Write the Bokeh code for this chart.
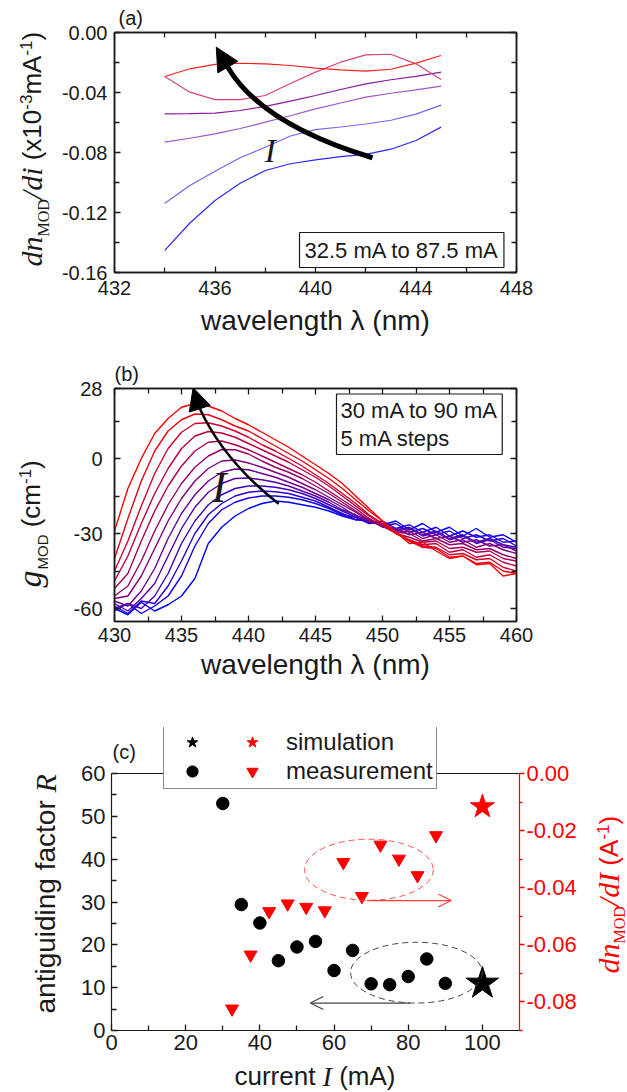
from bokeh.plotting import figure
from bokeh.models import (Range1d, LinearAxis, FixedTicker, NumeralTickFormatter,
                          Label, Arrow, NormalHead, OpenHead, Legend, LegendItem, Span)
from bokeh.layouts import column, row
from bokeh.embed import file_html
from bokeh.resources import INLINE
from bokeh.core.properties import value

SANS = "Liberation Sans"
SERIF = "Liberation Serif"
INK = "#1a1a1a"

# ---------------- panel (a) data ----------------
wl_a = [434, 435, 436, 437, 438, 439, 440, 441, 442, 443, 444, 445]
dn_325 = [-0.1453, -0.127, -0.112, -0.1005, -0.092, -0.0875, -0.0849, -0.0828, -0.0813, -0.0778, -0.072, -0.0631]
dn_435 = [-0.1138, -0.102, -0.0925, -0.0835, -0.0765, -0.069, -0.0648, -0.063, -0.061, -0.0585, -0.0544, -0.0484]
dn_545 = [-0.0731, -0.0705, -0.0676, -0.064, -0.0598, -0.0555, -0.0509, -0.047, -0.0431, -0.0405, -0.0382, -0.0358]
dn_655 = [-0.0542, -0.0541, -0.0538, -0.052, -0.0493, -0.0458, -0.042, -0.038, -0.0342, -0.0315, -0.0293, -0.0264]
dn_765 = [-0.0293, -0.0398, -0.0447, -0.0447, -0.042, -0.034, -0.0264, -0.0198, -0.0149, -0.0145, -0.0209, -0.0313]
dn_875 = [-0.0293, -0.0242, -0.0212, -0.0205, -0.0209, -0.022, -0.0238, -0.0249, -0.0258, -0.0245, -0.0204, -0.0153]
curves_a = [dn_325, dn_435, dn_545, dn_655, dn_765, dn_875]
colors_a = ["#2a2aff", "#7a62ee", "#a055c8", "#8a1a9a", "#d84478", "#ff2020"]

# ---------------- panel (b) data ----------------
wl_b = list(range(430, 461))
g_030 = [-60, -62.5, -57.5, -61, -58.5, -55, -48, -34, -27.5, -23, -20, -18, -17, -17.5, -18.5, -19.5, -21, -23, -24.5, -25, -26.5, -25, -28.5, -26, -29.5, -27.5, -31, -28, -31.5, -30.5, -33.5]
g_035 = [-61, -58, -62, -59, -55, -47, -35, -26, -20.5, -17.5, -15.8, -15, -15, -15.5, -16.5, -18, -20, -22.5, -23.5, -26, -25, -28, -26.5, -29.5, -27.5, -31, -29, -31.5, -30.5, -33.5, -33]
g_040 = [-59, -62, -57, -58, -51, -41, -30, -22.5, -18, -15, -13.5, -13, -13.3, -14, -15.5, -17, -19.5, -22, -24.5, -24, -27, -26, -29.5, -28, -30.5, -29, -32, -30.5, -33, -32, -35]
g_045 = [-60, -58, -60, -55, -46, -34, -25, -18.5, -14.5, -12, -11, -11, -11.5, -12.5, -14, -16, -18.5, -21, -23.5, -25.5, -26, -28.5, -27.5, -30.5, -29, -32, -30.5, -33.5, -32, -34.5, -35.5]
g_050 = [-58, -61, -56, -50, -39, -28, -19.5, -13.5, -10, -8, -7.8, -8.5, -9.5, -11, -13, -15, -17.5, -20.5, -22.5, -25.5, -26.5, -29, -28, -31, -29.5, -32.5, -31, -34, -32.5, -35.5, -36]
g_055 = [-57, -59, -53, -44, -32, -22, -14.5, -9, -5.5, -4.2, -4.5, -6, -7.5, -9.5, -11.5, -14, -16.5, -19.5, -23, -24.5, -27.5, -28, -30.5, -29.5, -32, -31, -33.5, -32.5, -35, -34.5, -37]
g_060 = [-56, -55, -47, -36, -25, -16, -9, -4, -1, -0.6, -1.8, -3.5, -5.5, -7.5, -10, -12.5, -15.5, -18.5, -21.5, -25, -26.5, -29.5, -29, -32, -30.5, -33.5, -32.5, -35.5, -34, -36.5, -38]
g_065 = [-55, -51, -41, -29, -18.5, -10, -3.5, 1, 3.6, 3.5, 1.8, -1, -3.5, -5.5, -8, -11, -14, -17.5, -21, -24.5, -27, -29.5, -30, -33, -32, -34.5, -34, -36.5, -36, -38.5, -40]
g_070 = [-52, -46, -33, -21, -11, -3, 3, 6.5, 7, 5.5, 3.5, 1, -1.5, -4, -6.5, -9.5, -13, -16.5, -20, -24, -27, -30, -31.5, -33.5, -33, -36, -35.5, -37.5, -37, -40, -41]
g_075 = [-49, -39, -26, -14, -4, 4, 9, 10.8, 10.2, 8.5, 6, 3.5, 1, -1.5, -4.5, -7.5, -11, -15, -19, -23, -26.5, -30, -32.5, -34.5, -34, -37.5, -36.5, -39.5, -38.5, -41.5, -43]
g_080 = [-45, -33, -19, -6, 4, 10.5, 14, 14.3, 13, 11, 8.5, 5.5, 3, 0, -3, -6.5, -10, -14, -18, -22.5, -26, -30, -33, -35, -35.5, -38.5, -38, -40.5, -40, -43.5, -45]
g_085 = [-40, -24, -9, 3, 11, 15.5, 17.8, 17.5, 15.5, 13, 11, 8, 5, 2, -1, -4.5, -8, -12, -16.5, -21, -25, -29.5, -33, -35.5, -36, -39.5, -39, -42, -41.5, -45, -46]
g_090 = [-29, -12, 0, 10, 16, 20.5, 22, 21, 19, 16, 13.5, 10.5, 7.5, 4.5, 1, -2.5, -6, -10, -15, -20, -25, -29.5, -34, -33.5, -37, -40, -39, -42.5, -42, -47, -46]
curves_b = [g_030, g_035, g_040, g_045, g_050, g_055, g_060, g_065, g_070, g_075, g_080, g_085, g_090]

# ---------------- panel (c) data ----------------
I_R = [30, 35, 40, 45, 50, 55, 60, 65, 70, 75, 80, 85, 90]
R_meas = [53, 29.4, 25.1, 16.3, 19.5, 20.8, 14.0, 18.7, 10.9, 10.7, 12.6, 16.7, 11.0]
I_dn = [32.5, 37.5, 42.5, 47.5, 52.5, 57.5, 62.5, 67.5, 72.5, 77.5, 82.5, 87.5]
dn_meas = [-0.0824, -0.0635, -0.0483, -0.0456, -0.0468, -0.048, -0.0311, -0.043, -0.025, -0.0299, -0.0357, -0.0217]
I_sim = [100]
R_sim = [11.0]
dn_sim = [-0.0116]

# ---------------- helpers ----------------
EM = {
    "sans": {" ": .278, "(": .333, ")": .333, "x": .5, "1": .556, "0": .556, "-": .333, "3": .556,
             "m": .833, "A": .667, "c": .5, "M": .833, "O": .778, "D": .722, "u": .556, "r": .333,
             "e": .556, "n": .556, "t": .278, "a": .556, "i": .222, "g": .556, "d": .556, "f": .278,
             "o": .556},
    "serif_i": {"d": .5, "n": .5, "/": .278, "i": .278, "I": .333, "g": .5, "R": .611},
    "serif": {"M": .889, "O": .722, "D": .722},
}
MID = {"sans": 0.3465, "serif": 0.3375, "serif_i": 0.3375}


def text_w(s, fam, size):
    return sum(EM[fam].get(c, .5) for c in s) * size


def compose(p, pieces, x0, y0, vertical, color=INK):
    """Chain text pieces along one baseline; each piece anchored at its own centre."""
    pos = 0.0
    for text, fam, size, shift, gap in pieces:
        pos += gap
        w = text_w(text, fam, size)
        along = pos + w / 2
        perp = shift + MID[fam] * size
        if vertical:
            x, y, ang = x0 - perp, y0 + along, 90
        else:
            x, y, ang = x0 + along, y0 + perp, 0
        font = SANS if fam == "sans" else SERIF
        style = "italic" if fam == "serif_i" else "normal"
        p.add_layout(Label(x=x, y=y, text=text, angle=ang, angle_units="deg",
                           text_font=font, text_font_style=style, text_font_size=f"{size}px",
                           text_color=color, text_align="center", text_baseline="middle"))
        pos += w


def style_axis(ax, fs, standoff, color=INK, tin=6, mtin=5, tout=0, mtout=0):
    ax.major_tick_in = tin
    ax.major_tick_out = tout
    ax.minor_tick_in = mtin
    ax.minor_tick_out = mtout
    ax.major_tick_line_color = color
    ax.minor_tick_line_color = color
    ax.major_tick_line_width = 1.3
    ax.minor_tick_line_width = 1.3
    ax.axis_line_color = color
    ax.axis_line_width = 1.5
    ax.major_label_text_font = SANS
    ax.major_label_text_font_size = f"{fs}px"
    ax.major_label_text_color = color
    ax.major_label_standoff = standoff


def mirror(p, ticker, side):
    ax = LinearAxis(ticker=ticker)
    style_axis(ax, 0, 0)
    ax.major_label_text_color = None
    ax.major_label_text_font_size = "0px"
    p.add_layout(ax, side)


def make_fig(w, h, l, r, t, b, xr, yr):
    p = figure(width=w, height=h, x_range=xr, y_range=yr, output_backend="svg",
               toolbar_location=None, min_border_left=l, min_border_right=r,
               min_border_top=t, min_border_bottom=b)
    p.grid.visible = False
    p.outline_line_color = INK
    p.outline_line_width = 1.5
    p.background_fill_color = "white"
    p.border_fill_color = "white"
    return p


def label_fig(w, h, frame_h):
    # in a row, this figure's frame is aligned with its neighbour's frame,
    # so its y range spans the neighbour's frame height (1 unit = 1 px)
    f = figure(width=w, height=h, title=None, x_range=Range1d(0, w), y_range=Range1d(0, frame_h),
               output_backend="svg", toolbar_location=None, x_axis_type=None, y_axis_type=None,
               min_border_left=0, min_border_right=0, min_border_top=0, min_border_bottom=0)
    f.outline_line_color = None
    f.background_fill_color = "white"
    f.border_fill_color = "white"
    return f


def panel_title(p, text, offset, standoff):
    p.title.text = text
    p.title.align = "left"
    p.title.offset = offset
    p.title.standoff = standoff
    p.title.text_font = SANS
    p.title.text_font_size = "20px"
    p.title.text_font_style = "normal"
    p.title.text_color = INK


def x_label(ax, standoff):
    ax.axis_label = "wavelength λ (nm)"
    ax.axis_label_text_font = SANS
    ax.axis_label_text_font_size = "28px"
    ax.axis_label_text_font_style = "normal"
    ax.axis_label_text_color = INK
    ax.axis_label_standoff = standoff


# ================= panel (a) =================
pa = make_fig(569, 345, 55, 111, 32, 73, Range1d(432, 448), Range1d(-0.16, 0.0))
xt_a = FixedTicker(ticks=[432, 436, 440, 444, 448], minor_ticks=[434, 438, 442, 446])
yt_a = FixedTicker(ticks=[-0.16, -0.12, -0.08, -0.04, 0.0], minor_ticks=[-0.14, -0.10, -0.06, -0.02])
pa.xaxis.ticker = xt_a
pa.yaxis.ticker = yt_a
pa.yaxis.formatter = NumeralTickFormatter(format="0.00")
style_axis(pa.xaxis[0], 20, 8)
style_axis(pa.yaxis[0], 20, 7)
x_label(pa.xaxis[0], 7)
mirror(pa, xt_a, "above")
mirror(pa, yt_a, "right")
panel_title(pa, "(a)", 4, 8)

for ys, c in zip(curves_a, colors_a):
    pa.line(wl_a, ys, line_color=c, line_width=1.2)

arrow_a = dict(x0=442.27, y0=-0.0835, cx0=439.34, cy0=-0.0687, cx1=437.41, cy1=-0.0486,
               x1=436.51, y1=-0.0231, tipx=436.05, tipy=-0.0098)
pa.bezier(x0=[arrow_a["x0"]], y0=[arrow_a["y0"]], x1=[arrow_a["x1"]], y1=[arrow_a["y1"]],
          cx0=[arrow_a["cx0"]], cy0=[arrow_a["cy0"]], cx1=[arrow_a["cx1"]], cy1=[arrow_a["cy1"]],
          line_color="black", line_width=5)
pa.add_layout(Arrow(end=NormalHead(size=23, fill_color="black", line_color="black"),
                    x_start=arrow_a["x1"], y_start=arrow_a["y1"],
                    x_end=arrow_a["tipx"], y_end=arrow_a["tipy"], line_color=None))
pa.add_layout(Label(x=438.2, y=-0.079, text="I", text_font=SERIF, text_font_style="italic",
                    text_font_size="33px", text_align="center", text_baseline="middle",
                    text_color=INK))
pa.add_layout(Label(x=185, y=5, x_units="screen", y_units="screen", text="32.5 mA to 87.5 mA",
                    text_font=SANS, text_font_size="22px", text_color=INK,
                    text_align="left", text_baseline="bottom", padding=5,
                    border_line_color=INK, border_line_width=1.2,
                    background_fill_color="white"))

la = label_fig(58, 345, 240)
compose(la, [("dn", "serif_i", 30, 0, 0), ("MOD", "serif", 16, -7, 0), ("/di", "serif_i", 30, 0, 0),
             ("(x10", "sans", 26, 0, 7.2), ("-3", "sans", 17, 10, 0), ("mA", "sans", 26, 0, 0),
             ("-1", "sans", 17, 10, 0), (")", "sans", 26, 0, 0)], 41, 6, True)

# ================= panel (b) =================
pb = make_fig(569, 345, 56, 111, 43, 69, Range1d(430, 460), Range1d(-65.2, 28))
xt_b = FixedTicker(ticks=[430, 435, 440, 445, 450, 455, 460],
                   minor_ticks=[432.5, 437.5, 442.5, 447.5, 452.5, 457.5])
yt_b = FixedTicker(ticks=[-60, -30, 0, 28], minor_ticks=[-45, -15, 15])
pb.xaxis.ticker = xt_b
pb.yaxis.ticker = yt_b
pb.yaxis.formatter = NumeralTickFormatter(format="0")
style_axis(pb.xaxis[0], 20, 6)
style_axis(pb.yaxis[0], 20, 12)
x_label(pb.xaxis[0], 4)
mirror(pb, xt_b, "above")
mirror(pb, yt_b, "right")
panel_title(pb, "(b)", 0, 8)

n_b = len(curves_b)
for i, ys in enumerate(curves_b):
    t = i / (n_b - 1)
    col = "#%02x%02x%02x" % (round(255 * t), 0, round(255 * (1 - t)))
    pb.line(wl_b, ys, line_color=col, line_width=1.4)

arrow_b = dict(x0=442.25, y0=-18.12, cx0=439.52, cy0=-6.68, cx1=437.57, cy1=6.04,
               x1=436.36, y1=20.0, tipx=435.87, tipy=28.3)
pb.bezier(x0=[arrow_b["x0"]], y0=[arrow_b["y0"]], x1=[arrow_b["x1"]], y1=[arrow_b["y1"]],
          cx0=[arrow_b["cx0"]], cy0=[arrow_b["cy0"]], cx1=[arrow_b["cx1"]], cy1=[arrow_b["cy1"]],
          line_color="black", line_width=2.5)
pb.add_layout(Arrow(end=NormalHead(size=22, fill_color="black", line_color="black"),
                    x_start=arrow_b["x1"], y_start=arrow_b["y1"],
                    x_end=arrow_b["tipx"], y_end=arrow_b["tipy"], line_color=None))
pb.add_layout(Label(x=437.8, y=-11.6, text="I", text_font=SERIF, text_font_style="italic",
                    text_font_size="44px", text_align="center", text_baseline="middle",
                    text_color=INK))
pb.add_layout(Label(x=222, y=167, x_units="screen", y_units="screen",
                    text="30 mA to 90 mA\n5 mA steps",
                    text_font=SANS, text_font_size="22px", text_color=INK,
                    text_align="left", text_baseline="bottom", padding=4,
                    text_line_height=1.1,
                    border_line_color=INK, border_line_width=1.2,
                    background_fill_color="white"))

lb = label_fig(58, 345, 233)
compose(lb, [("g", "serif_i", 34, 0, 0), ("MOD", "sans", 15, -7, 1),
             ("(cm", "sans", 26, 0, 7.2), ("-1", "sans", 17, 10, 0), (")", "sans", 26, 0, 0)],
        40, 34, True)

# ================= panel (c) =================
pc = make_fig(510, 370, 39, 63, 37, 30, Range1d(0, 110), Range1d(0, 70.74))
pc.outline_line_color = None
pc.extra_y_ranges = {"right": Range1d(-0.09, 0.01611)}
xt_c = FixedTicker(ticks=[0, 20, 40, 60, 80, 100], minor_ticks=[10, 30, 50, 70, 90])
yt_c = FixedTicker(ticks=[0, 10, 20, 30, 40, 50, 60], minor_ticks=[5, 15, 25, 35, 45, 55])
pc.xaxis.ticker = xt_c
pc.yaxis.ticker = yt_c
pc.yaxis.bounds = (0, 60)
style_axis(pc.xaxis[0], 22, 4)
style_axis(pc.yaxis[0], 22, 6)
pc.xaxis.axis_line_width = 1.2
pc.yaxis.axis_line_width = 1.2
rax = LinearAxis(y_range_name="right", bounds=(-0.09, 0.0),
                 ticker=FixedTicker(ticks=[-0.08, -0.06, -0.04, -0.02, 0.0],
                                    minor_ticks=[-0.09, -0.07, -0.05, -0.03, -0.01]),
                 formatter=NumeralTickFormatter(format="0.00"))
style_axis(rax, 22, 2, color="#ff0000", tin=0, mtin=0, tout=5, mtout=3)
rax.axis_line_width = 1.2
pc.add_layout(rax, "right")
pc.add_layout(Span(location=60, dimension="width", line_color=INK, line_width=1.2))

r_sk = pc.scatter(I_sim, R_sim, marker="star", size=34, fill_color="black", line_color="black")
r_ck = pc.scatter(I_R, R_meas, marker="circle", size=12.5, fill_color="black", line_color="black")
r_sr = pc.scatter(I_sim, dn_sim, y_range_name="right", marker="star", size=25,
                  fill_color="#ff0000", line_color="#ff0000")
r_tr = pc.scatter(I_dn, dn_meas, y_range_name="right", marker="inverted_triangle", size=13,
                  fill_color="#ff0000", line_color="#ff0000")

pc.ellipse(x=[82.2], y=[13.5], width=[35.5], height=[14.2], fill_color=None,
           line_color="#444444", line_dash="6 4", line_width=1)
pc.ellipse(x=[69.4], y=[-0.0337], width=[34.7], height=[0.0214], fill_color=None,
           line_color="#ff5050", line_dash="6 4", line_width=1, y_range_name="right")
pc.add_layout(Arrow(end=OpenHead(size=13, line_color="#444444", line_width=1.2),
                    x_start=80.6, y_start=6.4, x_end=53.6, y_end=6.4,
                    line_color="#444444", line_width=1.2))
pc.add_layout(Arrow(end=OpenHead(size=13, line_color="#ff4040", line_width=1.2),
                    x_start=68.9, y_start=-0.0445, x_end=91.6, y_end=-0.0445,
                    line_color="#ff4040", line_width=1.2, y_range_name="right"))

legend = Legend(items=[
    LegendItem(label=value(""), renderers=[r_sk]),
    LegendItem(label=value(""), renderers=[r_ck]),
    LegendItem(label=value("simulation"), renderers=[r_sr]),
    LegendItem(label=value("measurement"), renderers=[r_tr]),
], location=(52, 241), nrows=2, orientation="vertical", margin=0, padding=3,
    spacing=1, glyph_width=50, glyph_height=28, label_standoff=9, label_width=0,
    label_text_font=SANS, label_text_font_size="24px", label_text_color=INK,
    border_line_color=INK, border_line_width=1.2, background_fill_color="white",
    background_fill_alpha=1.0)
pc.add_layout(legend, "center")
pc.add_layout(Label(x=1, y=279, x_units="screen", y_units="screen", text="(c)",
                    text_font=SANS, text_font_size="20px", text_color=INK,
                    text_baseline="middle"))

lc = label_fig(72, 370, 303)
compose(lc, [("antiguiding factor", "sans", 28, 0, 0), ("R", "serif_i", 30, 0, 7.8)], 55, 17, True)
rc = label_fig(45, 370, 303)
compose(rc, [("dn", "serif_i", 30, 0, 0), ("MOD", "serif", 16, -6, 0), ("/dI", "serif_i", 30, 0, 0),
             ("(A", "sans", 26, 0, 7.2), ("-1", "sans", 17, 10, 0), (")", "sans", 26, 0, 0)],
        36, 57, True, color="#ff0000")
xc = label_fig(627, 31, 31)
compose(xc, [("current", "sans", 26, 0, 0), ("I", "serif_i", 28, 0, 7.2), ("(mA)", "sans", 26, 0, 7.2)],
        234, 6, False)

layout = column(row(la, pa, spacing=0), row(lb, pb, spacing=0), row(lc, pc, rc, spacing=0), xc,
                spacing=0)
open("out.html", "w").write(file_html(layout, INLINE))
